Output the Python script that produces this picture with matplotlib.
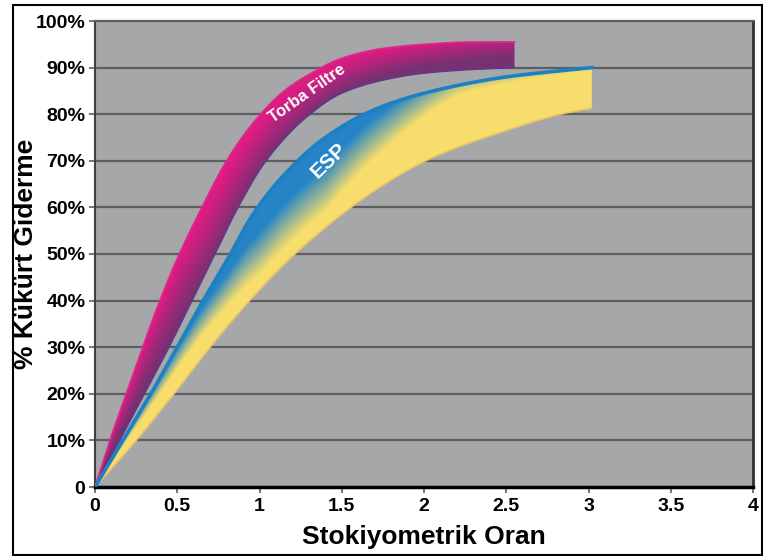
import numpy as np
import matplotlib
matplotlib.use("Agg")
from matplotlib import pyplot as plt
from matplotlib.patches import Rectangle

# curve points (x = stoichiometric ratio, y = % removal)
torba_ust_x = [0, 0.1, 0.2, 0.3, 0.4, 0.5, 0.65, 0.8, 0.97, 1.15, 1.3, 1.5, 1.73, 2.0, 2.3, 2.55]
torba_ust_y = [0, 11, 21, 31, 40.5, 49, 60, 70, 78.5, 85, 88.5, 92, 94, 95, 95.5, 95.5]
torba_alt_x = [0, 0.15, 0.3, 0.45, 0.59, 0.73, 0.87, 1.04, 1.29, 1.5, 1.75, 2.0, 2.3, 2.55]
torba_alt_y = [0, 10, 20, 30, 40, 50, 60, 70, 79.5, 84.5, 87.3, 88.8, 89.6, 90]

esp_ust_x = [0, 0.17, 0.34, 0.5, 0.65, 0.8, 0.96, 1.15, 1.4, 1.7, 2.0, 2.5, 3.02]
esp_ust_y = [0, 10, 20, 30, 39.5, 48.5, 58.5, 67, 75, 81, 84.5, 88, 90]
esp_alt_x = [0, 0.25, 0.48, 0.7, 0.94, 1.2, 1.5, 1.73, 2.04, 2.5, 2.83, 3.02]
esp_alt_y = [0, 10, 20, 30, 40, 49.5, 58.5, 64.3, 70.5, 76.5, 80, 81.3]

x_ticks = [0, 0.5, 1, 1.5, 2, 2.5, 3, 3.5, 4]
x_labels = ['0', '0.5', '1', '1.5', '2', '2.5', '3', '3.5', '4']
y_ticks = [0, 10, 20, 30, 40, 50, 60, 70, 80, 90, 100]
y_labels = ['0', '10%', '20%', '30%', '40%', '50%', '60%', '70%', '80%', '90%', '100%']


def pchip(xs, ys, xn):
    # monotone cubic through the read points, only to draw them smoothly
    xs = np.asarray(xs, float)
    ys = np.asarray(ys, float)
    h = np.diff(xs)
    d = np.diff(ys) / h
    m = np.zeros_like(xs)
    m[0], m[-1] = d[0], d[-1]
    for k in range(1, len(xs) - 1):
        if d[k-1] * d[k] > 0:
            w1 = 2 * h[k] + h[k-1]
            w2 = h[k] + 2 * h[k-1]
            m[k] = (w1 + w2) / (w1 / d[k-1] + w2 / d[k])
    i = np.clip(np.searchsorted(xs, xn) - 1, 0, len(xs) - 2)
    s = (xn - xs[i]) / h[i]
    h00 = 2*s**3 - 3*s**2 + 1
    h10 = s**3 - 2*s**2 + s
    h01 = -2*s**3 + 3*s**2
    h11 = s**3 - s**2
    return h00*ys[i] + h10*h[i]*m[i] + h01*ys[i+1] + h11*h[i]*m[i+1]


plt.rcParams['font.family'] = ['Liberation Sans', 'DejaVu Sans']
plt.rcParams['font.weight'] = 'bold'

fig = plt.figure(figsize=(7.63, 5.56), dpi=100)
ax = fig.add_axes([95/763, 1-487/556, 658/763, 466/556])
ax.set_facecolor('#a5a7a9')
ax.set_xlim(0, 4)
ax.set_ylim(0, 100)

for g in y_ticks[1:-1]:
    ax.axhline(g, color='#5c5e60', lw=1.6, zorder=1)


def band(ux, uy, lx, ly, colfunc):
    xu = np.linspace(0, ux[-1], 400)
    yu = pchip(ux, uy, xu)
    xl = np.linspace(0, lx[-1], 400)
    yl = pchip(lx, ly, xl)
    poly = ax.fill(np.r_[xu, xl[::-1]], np.r_[yu, yl[::-1]],
                   facecolor='none', edgecolor='none', zorder=3)[0]
    xmax = max(ux[-1], lx[-1]) + 0.01
    X, Y = np.meshgrid(np.linspace(0, xmax, 700), np.linspace(0, 100, 500))
    YU = np.interp(X, xu, yu)
    YL = np.interp(X, xl, yl)
    t = np.clip((YU - Y) / np.maximum(YU - YL, 1e-6), 0, 1)
    im = ax.imshow(colfunc(X, t), extent=[0, xmax, 0, 100], origin='lower',
                   aspect='auto', interpolation='bilinear', zorder=3)
    im.set_clip_path(poly)
    return xu, yu, xl, yl


def torba_col(X, t):
    c1 = np.array([0.86, 0.11, 0.51])
    c2 = np.array([0.47, 0.19, 0.45])
    w = 1.2 * t - 0.2 + 0.5 * np.clip(X - 1.4, 0, None) + 0.5 * np.clip(0.7 - X, 0, None)
    w = np.clip(w, 0, 1)[..., None]
    return c1 * (1 - w) + c2 * w


def esp_col(X, t):
    c1 = np.array([0.15, 0.52, 0.78])
    c2 = np.array([0.97, 0.87, 0.42])
    f = np.interp(X, [0, 0.5, 1.0, 1.4, 1.8, 2.2, 3.1], [-0.2, 0.0, 0.32, 0.32, 0.02, -0.35, -0.45])
    w = np.clip((t - f) / 0.5, 0, 1)[..., None]
    return c1 * (1 - w) + c2 * w


# Torba Filtre band
xu, yu, xl, yl = band(torba_ust_x, torba_ust_y, torba_alt_x, torba_alt_y, torba_col)
ax.plot(xu, yu, color='#e0288a', lw=1.2, zorder=4)
ax.plot(xl, yl, color='#5c3a8c', lw=1.0, zorder=4)

# ESP band
xu, yu, xl, yl = band(esp_ust_x, esp_ust_y, esp_alt_x, esp_alt_y, esp_col)
ax.plot(xl, yl, color='#efc266', lw=1.2, zorder=4)
ax.plot(xu, yu, color='#1d80c2', lw=2.6, zorder=5)

ax.text(1.29, 84.5, 'Torba Filtre', color='white', fontsize=12, fontweight='bold',
        rotation=35, ha='center', va='center', rotation_mode='anchor', zorder=6)
ax.text(1.42, 70, 'ESP', color='white', fontsize=15, fontweight='bold',
        rotation=44, ha='center', va='center', rotation_mode='anchor', zorder=6)

ax.set_xticks(x_ticks)
ax.set_xticklabels(x_labels)
ax.set_yticks(y_ticks)
ax.set_yticklabels(y_labels)
ax.tick_params(axis='both', labelsize=14, length=4, color='#606060', width=1.2)
ax.tick_params(axis='y', pad=3)
ax.tick_params(axis='x', pad=4)

ax.spines['left'].set_color('#404040')
ax.spines['left'].set_linewidth(1.5)
ax.spines['bottom'].set_color('black')
ax.spines['bottom'].set_linewidth(2.5)
ax.spines['right'].set_color('#303030')
ax.spines['right'].set_linewidth(2)
ax.spines['top'].set_color('#5c5e60')
ax.spines['top'].set_linewidth(1.6)

ax.set_xlabel('Stokiyometrik Oran', fontsize=19, fontweight='bold', labelpad=7)
ax.set_ylabel('% Kükürt Giderme', fontsize=19, fontweight='bold', labelpad=-2)

fig.add_artist(Rectangle((13/763, 1/556), 749/763, 550/556, transform=fig.transFigure,
                         fill=False, edgecolor='black', lw=1.5))

fig.savefig('out.png', dpi=100)
